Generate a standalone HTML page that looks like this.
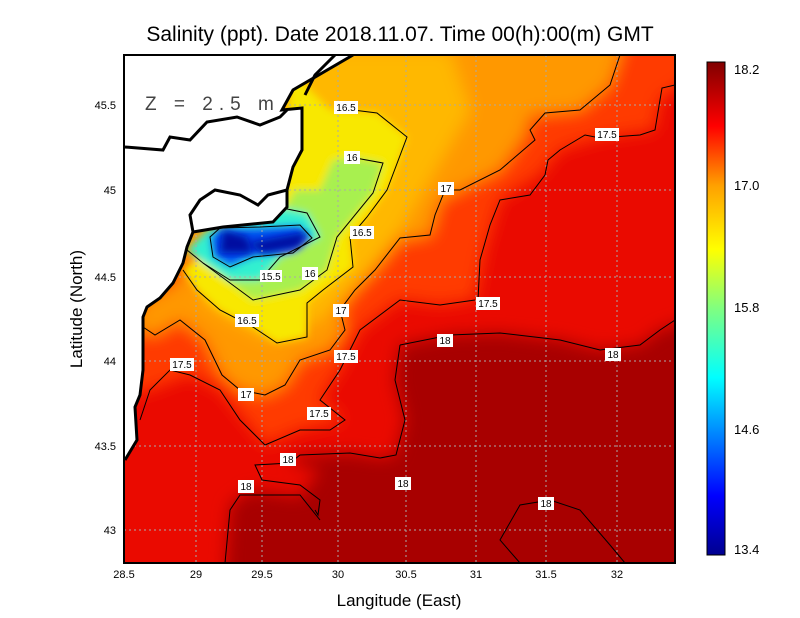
<!DOCTYPE html>
<html><head><meta charset="utf-8"><style>
body{margin:0;background:#fff;}
svg{display:block;font-family:"Liberation Sans",sans-serif;}
</style></head><body>
<svg width="800" height="618" viewBox="0 0 800 618" xmlns="http://www.w3.org/2000/svg">
<defs>
<filter id="b" x="-20%" y="-20%" width="140%" height="140%"><feGaussianBlur stdDeviation="8"/></filter>
<filter id="b2" x="-20%" y="-20%" width="140%" height="140%"><feGaussianBlur stdDeviation="4"/></filter>
<clipPath id="c"><rect x="124" y="55" width="551" height="508"/></clipPath>
<linearGradient id="cb" x1="0" y1="1" x2="0" y2="0">
<stop offset="0" stop-color="#00008f"/><stop offset="0.12" stop-color="#0000ff"/>
<stop offset="0.36" stop-color="#00ffff"/><stop offset="0.5" stop-color="#80ff80"/>
<stop offset="0.62" stop-color="#ffff00"/><stop offset="0.75" stop-color="#ffa000"/>
<stop offset="0.87" stop-color="#ff0000"/><stop offset="1" stop-color="#800000"/>
</linearGradient>
</defs>
<g clip-path="url(#c)">
<rect x="124" y="55" width="551" height="508" fill="#ea0a00"/>
<g filter="url(#b)">
<polygon fill="#ff3a00" points="110,40 690,40 690,80 660,100 655,130 600,138 560,150 540,175 500,200 485,250 475,300 440,305 400,300 360,330 340,370 320,400 345,420 300,430 265,445 220,390 190,375 150,390 110,400"/>
<polygon fill="#ff9800" points="110,40 625,40 610,85 580,110 530,115 525,135 500,170 460,190 440,200 430,235 400,240 375,270 355,290 340,310 345,330 330,350 300,360 285,385 265,395 240,390 222,375 205,340 180,320 155,335 130,330 145,300 175,285 190,260 110,250"/>
<polygon fill="#ffb800" points="290,50 450,50 470,110 430,180 400,230 360,280 320,320 270,340 230,320 200,300 280,200"/>
<polygon fill="#a80000" points="400,345 450,335 500,333 560,340 600,350 640,345 660,330 690,320 690,580 225,580 230,505 250,490 300,497 320,470 290,463 300,455 350,453 380,458 396,455 405,420 395,380"/>
</g>
<g filter="url(#b2)">
<polygon fill="#f8e800" points="290,70 330,110 377,113 407,137 387,190 367,217 350,237 353,267 323,290 307,303 307,337 277,343 253,327 220,310 197,290 183,270 280,200 287,150"/>
<polygon fill="#a8f050" points="350,157 383,163 373,193 337,237 327,270 300,290 253,300 230,283 203,263 287,205 295,190 320,190 333,160"/>
<polygon fill="#30f0d0" points="277,207 307,213 320,237 280,257 260,280 230,280 203,263 187,250 207,230"/>
<polygon fill="#0050f0" points="220,228 260,227 300,225 312,238 293,253 253,257 230,267 213,257 210,237"/>
</g>
<polygon fill="#0010a0" filter="url(#b2)" points="223,230 247,237 253,253 220,253"/>
<polygon fill="#0010a0" filter="url(#b2)" points="247,243 307,232 300,247 263,253"/>
<g stroke="#aaa" stroke-dasharray="2,3" stroke-width="1">
<line x1="196" y1="55" x2="196" y2="563"/><line x1="262" y1="55" x2="262" y2="563"/><line x1="338" y1="55" x2="338" y2="563"/><line x1="406" y1="55" x2="406" y2="563"/><line x1="476" y1="55" x2="476" y2="563"/><line x1="546" y1="55" x2="546" y2="563"/><line x1="617" y1="55" x2="617" y2="563"/>
<line x1="124" y1="105" x2="675" y2="105"/><line x1="124" y1="190" x2="675" y2="190"/><line x1="124" y1="277" x2="675" y2="277"/><line x1="124" y1="361" x2="675" y2="361"/><line x1="124" y1="446" x2="675" y2="446"/><line x1="124" y1="530" x2="675" y2="530"/>
</g>
<g fill="none" stroke="#000" stroke-width="1">
<path d="M337,108 L377,113 407,137 387,190 367,217 350,237 353,267 323,290 307,303 307,337 277,343 253,327 220,310 197,290 183,270"/>
<path d="M350,157 L383,163 373,193 337,237 327,270 300,290 253,300 230,283 203,263"/>
<path d="M277,207 L307,213 320,237 280,257 260,280 230,280 203,263 187,250"/>
<path d="M220,228 L260,227 300,225 312,238 293,253 253,257 230,267 213,257 210,237 220,228"/>
<path d="M620,55 L610,85 580,110 545,113 530,130 535,140 500,170 460,190 445,190 435,215 430,235 400,238 375,270 355,290 340,310 345,330 330,350 300,360 285,385 265,395 240,390 222,375 205,340 180,320 155,335 140,325"/>
<path d="M400,345 450,335 500,333 560,340 600,350 640,345 660,330 675,320"/>
<path d="M400,345 395,380 405,420 396,455 380,458 350,453 300,455 290,463 255,465 262,480 300,485 320,500 318,515 315,510"/>
<path d="M475,300 L440,305 400,300 360,330 340,370 320,400 345,420 330,430 300,430 265,445 240,420 220,390 190,375 170,370 150,390 140,420"/>
<path d="M675,85 L662,88 660,100 655,130 640,135 600,138 585,135 560,150 548,160 545,175 530,195 500,200 490,225 480,260 478,300"/>
<path d="M225,563 L230,510 240,495 300,495 320,520"/>
<path d="M520,563 L500,540 520,505 550,500 580,510 610,545 625,563"/>
</g>
<polygon fill="#fff" points="110,40 353,40 353,55 293,90 282,110 302,108 302,150 293,167 287,190 287,207 273,222 223,227 193,232 187,247 183,263 173,283 160,298 147,307 143,317 143,370 140,395 135,407 137,440 125,460 110,460"/>
<g fill="none" stroke="#000" stroke-width="3">
<path d="M353,55 L293,90 282,110 302,108 302,150 293,167 287,190 287,207 273,222 223,227 193,232 187,247 183,263 173,283 160,298 147,307 143,317 143,370 140,395 135,407 137,440 125,460"/>
<path d="M125,147 L163,150 170,137 190,140 207,122 237,117 260,125 280,117 287,110"/>
<path d="M287,190 L268,195 258,205 240,195 215,190 200,200 190,215 193,232"/>
<path d="M335,55 L315,75 305,95"/>
</g>
</g>
<rect x="124" y="55" width="551" height="508" fill="none" stroke="#000" stroke-width="2"/>
<text x="145" y="110" font-size="19" fill="#444" letter-spacing="6">Z = 2.5 m</text>
<g font-size="10" text-anchor="middle">
<g fill="#fff">
<rect x="334" y="101" width="24" height="13"/><rect x="344" y="151" width="16" height="13"/><rect x="438" y="182" width="16" height="13"/>
<rect x="350" y="226" width="24" height="13"/><rect x="302" y="267" width="16" height="13"/><rect x="260" y="270" width="22" height="12"/>
<rect x="235" y="314" width="24" height="13"/><rect x="333" y="304" width="16" height="13"/><rect x="476" y="297" width="24" height="13"/>
<rect x="334" y="350" width="24" height="13"/><rect x="170" y="358" width="24" height="13"/><rect x="238" y="388" width="16" height="13"/>
<rect x="307" y="407" width="24" height="13"/><rect x="280" y="453" width="16" height="13"/><rect x="238" y="480" width="16" height="13"/>
<rect x="395" y="477" width="16" height="13"/><rect x="437" y="334" width="16" height="13"/><rect x="605" y="348" width="16" height="13"/>
<rect x="595" y="128" width="24" height="13"/><rect x="538" y="497" width="16" height="13"/>
</g>
<text x="346" y="111">16.5</text><text x="352" y="161">16</text><text x="446" y="192">17</text>
<text x="362" y="236">16.5</text><text x="310" y="277">16</text><text x="271" y="280">15.5</text>
<text x="247" y="324">16.5</text><text x="341" y="314">17</text><text x="488" y="307">17.5</text>
<text x="346" y="360">17.5</text><text x="182" y="368">17.5</text><text x="246" y="398">17</text>
<text x="319" y="417">17.5</text><text x="288" y="463">18</text><text x="246" y="490">18</text>
<text x="403" y="487">18</text><text x="445" y="344">18</text><text x="613" y="358">18</text>
<text x="607" y="138">17.5</text><text x="546" y="507">18</text>
</g>
<g font-size="11" text-anchor="middle">
<text x="124" y="578">28.5</text><text x="196" y="578">29</text><text x="262" y="578">29.5</text><text x="338" y="578">30</text><text x="406" y="578">30.5</text><text x="476" y="578">31</text><text x="546" y="578">31.5</text><text x="617" y="578">32</text>
</g>
<g font-size="11" text-anchor="end">
<text x="116" y="109">45.5</text><text x="116" y="194">45</text><text x="116" y="281">44.5</text><text x="116" y="365">44</text><text x="116" y="450">43.5</text><text x="116" y="534">43</text>
</g>
<text x="400" y="41" font-size="21" text-anchor="middle">Salinity (ppt). Date 2018.11.07. Time 00(h):00(m) GMT</text>
<text x="399" y="606" font-size="17" text-anchor="middle">Langitude (East)</text>
<text x="82" y="309" font-size="17" text-anchor="middle" transform="rotate(-90 82 309)">Latitude (North)</text>
<rect x="707" y="62" width="18" height="493" fill="url(#cb)" stroke="#000" stroke-width="1"/>
<g font-size="13">
<text x="734" y="74">18.2</text><text x="734" y="190">17.0</text><text x="734" y="312">15.8</text><text x="734" y="434">14.6</text><text x="734" y="554">13.4</text>
</g>
</svg>
</body></html>
